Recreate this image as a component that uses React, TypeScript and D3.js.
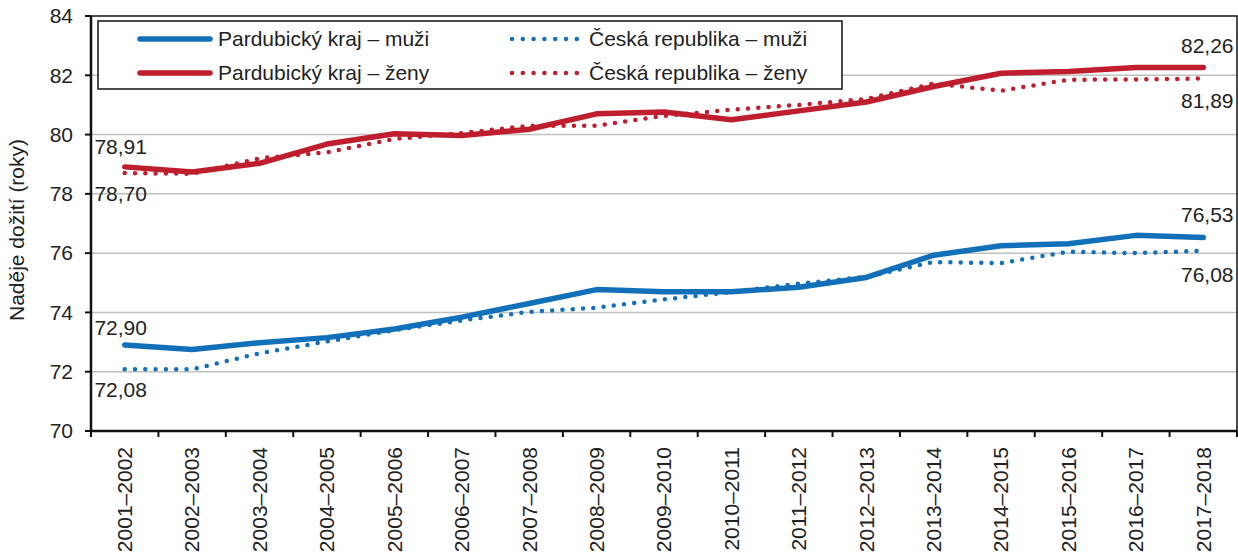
import React, {useRef, useEffect} from 'react';
import * as d3 from 'd3';

const width = 1238;
const height = 553;
const margin = {top: 16, right: 1, bottom: 122, left: 91};

const periods = [
  '2001–2002', '2002–2003', '2003–2004', '2004–2005', '2005–2006', '2006–2007',
  '2007–2008', '2008–2009', '2009–2010', '2010–2011', '2011–2012', '2012–2013',
  '2013–2014', '2014–2015', '2015–2016', '2016–2017', '2017–2018',
];

const pardMen = [72.9, 72.75, 72.98, 73.15, 73.44, 73.84, 74.3, 74.77, 74.7, 74.7, 74.85, 75.18, 75.93, 76.25, 76.32, 76.6, 76.53];
const czMen = [72.08, 72.08, 72.62, 73.02, 73.4, 73.73, 74.02, 74.16, 74.44, 74.69, 74.97, 75.2, 75.7, 75.66, 76.05, 76.0, 76.08];
const pardWomen = [78.91, 78.74, 79.03, 79.68, 80.03, 79.97, 80.18, 80.7, 80.76, 80.5, 80.8, 81.1, 81.62, 82.07, 82.13, 82.26, 82.26];
const czWomen = [78.7, 78.68, 79.2, 79.4, 79.85, 80.05, 80.3, 80.3, 80.63, 80.84, 81.0, 81.2, 81.72, 81.48, 81.85, 81.86, 81.89];

const yTicks = [70, 72, 74, 76, 78, 80, 82, 84];

const blue = '#1170B8';
const red = '#BE1E2D';
const font = 'Liberation Sans, Arial, sans-serif';

const series = [
  {name: 'Pardubický kraj – muži', values: pardMen, color: blue, dotted: false},
  {name: 'Pardubický kraj – ženy', values: pardWomen, color: red, dotted: false},
  {name: 'Česká republika – muži', values: czMen, color: blue, dotted: true},
  {name: 'Česká republika – ženy', values: czWomen, color: red, dotted: true},
];

const fmt = (v: number) => v.toFixed(2).replace('.', ',');

const draw = (el: SVGSVGElement) => {
  const svg = d3.select(el);
  svg.selectAll('*').remove();
  svg.style('font-family', font).style('font-size', '21px');

  const x = d3
    .scaleBand()
    .domain(periods)
    .range([margin.left, width - margin.right])
    .paddingInner(0)
    .paddingOuter(0);
  const y = d3.scaleLinear().domain([70, 84]).range([height - margin.bottom, margin.top]);
  const cx = (i: number) => (x(periods[i]) as number) + x.bandwidth() / 2;

  // grid
  svg
    .append('g')
    .selectAll('line')
    .data(yTicks.slice(1, -1))
    .enter()
    .append('line')
    .attr('x1', margin.left)
    .attr('x2', width - margin.right)
    .attr('y1', d => y(d))
    .attr('y2', d => y(d))
    .attr('stroke', '#c0c0c0')
    .attr('stroke-width', 1.5);

  // plot frame (top + right)
  svg
    .append('path')
    .attr('d', `M${margin.left},${y(84)}H${width - margin.right}V${y(70)}`)
    .attr('fill', 'none')
    .attr('stroke', '#111')
    .attr('stroke-width', 1.5);

  // y axis
  const yAxis = svg.append('g');
  yAxis
    .append('line')
    .attr('x1', margin.left)
    .attr('x2', margin.left)
    .attr('y1', y(84))
    .attr('y2', y(70))
    .attr('stroke', '#111')
    .attr('stroke-width', 2.5);
  yAxis
    .selectAll('line.tick')
    .data(yTicks)
    .enter()
    .append('line')
    .attr('class', 'tick')
    .attr('x1', margin.left - 6)
    .attr('x2', margin.left)
    .attr('y1', d => y(d))
    .attr('y2', d => y(d))
    .attr('stroke', '#111')
    .attr('stroke-width', 2);
  yAxis
    .selectAll('text')
    .data(yTicks)
    .enter()
    .append('text')
    .attr('x', margin.left - 18)
    .attr('y', d => y(d))
    .attr('dy', '0.35em')
    .attr('text-anchor', 'end')
    .attr('fill', '#222')
    .text(d => d);

  svg
    .append('text')
    .attr('transform', `translate(24, 230) rotate(-90)`)
    .attr('text-anchor', 'middle')
    .attr('fill', '#222')
    .text('Naděje dožití (roky)');

  // x axis
  const xAxis = svg.append('g');
  xAxis
    .append('line')
    .attr('x1', margin.left)
    .attr('x2', width - margin.right)
    .attr('y1', y(70))
    .attr('y2', y(70))
    .attr('stroke', '#111')
    .attr('stroke-width', 2.5);
  xAxis
    .selectAll('line.tick')
    .data(d3.range(periods.length + 1))
    .enter()
    .append('line')
    .attr('class', 'tick')
    .attr('x1', i => margin.left + i * x.bandwidth())
    .attr('x2', i => margin.left + i * x.bandwidth())
    .attr('y1', y(70))
    .attr('y2', y(70) + 6)
    .attr('stroke', '#111')
    .attr('stroke-width', 2);
  xAxis
    .selectAll('text')
    .data(periods)
    .enter()
    .append('text')
    .attr('transform', (d, i) => `translate(${cx(i)}, ${y(70) + 16}) rotate(-90)`)
    .attr('dy', '0.35em')
    .attr('text-anchor', 'end')
    .attr('fill', '#222')
    .text(d => d);

  // lines
  const line = d3
    .line<number>()
    .x((d, i) => cx(i))
    .y(d => y(d));

  svg
    .append('g')
    .selectAll('path')
    .data(series)
    .enter()
    .append('path')
    .attr('d', d => line(d.values))
    .attr('fill', 'none')
    .attr('stroke', d => d.color)
    .attr('stroke-width', d => (d.dotted ? 4.5 : 5.5))
    .attr('stroke-linecap', 'round')
    .attr('stroke-linejoin', 'round')
    .attr('stroke-dasharray', d => (d.dotted ? '0 10.3' : null));

  // value labels at both ends
  const last = periods.length - 1;
  const labels = [
    {v: pardWomen[0], i: 0, dy: -20, dx: -4},
    {v: czWomen[0], i: 0, dy: 21, dx: -4},
    {v: pardMen[0], i: 0, dy: -17, dx: -4},
    {v: czMen[0], i: 0, dy: 20, dx: -4},
    {v: pardWomen[last], i: last, dy: -22, dx: 4},
    {v: czWomen[last], i: last, dy: 22, dx: 4},
    {v: pardMen[last], i: last, dy: -23, dx: 4},
    {v: czMen[last], i: last, dy: 24, dx: 4},
  ];
  svg
    .append('g')
    .selectAll('text')
    .data(labels)
    .enter()
    .append('text')
    .attr('x', d => cx(d.i) + d.dx)
    .attr('y', d => y(d.v) + d.dy)
    .attr('dy', '0.35em')
    .attr('text-anchor', 'middle')
    .attr('fill', '#222')
    .text(d => fmt(d.v));

  // legend
  const legend = svg.append('g');
  legend
    .append('rect')
    .attr('x', 98)
    .attr('y', 21)
    .attr('width', 744)
    .attr('height', 68)
    .attr('fill', 'white')
    .attr('stroke', '#111')
    .attr('stroke-width', 1.5);
  const items = legend
    .selectAll('g')
    .data(series)
    .enter()
    .append('g')
    .attr('transform', (d, i) => `translate(${i < 2 ? 140 : 512}, ${i % 2 === 0 ? 39 : 73})`);
  items
    .append('line')
    .attr('x1', 0)
    .attr('x2', d => (d.dotted ? 66 : 70))
    .attr('stroke', d => d.color)
    .attr('stroke-width', d => (d.dotted ? 4.5 : 5.5))
    .attr('stroke-linecap', 'round')
    .attr('stroke-dasharray', d => (d.dotted ? '0 10.8' : null));
  items
    .append('text')
    .attr('x', d => (d.dotted ? 77 : 78))
    .attr('dy', '0.35em')
    .attr('fill', '#222')
    .text(d => d.name);
};

export default function App() {
  const ref = useRef<SVGSVGElement>(null);
  useEffect(() => {
    if (ref.current) draw(ref.current);
  }, []);
  return (
    <svg
      ref={ref}
      width={width}
      height={height}
      style={{position: 'absolute', left: 0, top: 0, background: 'white'}}
    />
  );
}
